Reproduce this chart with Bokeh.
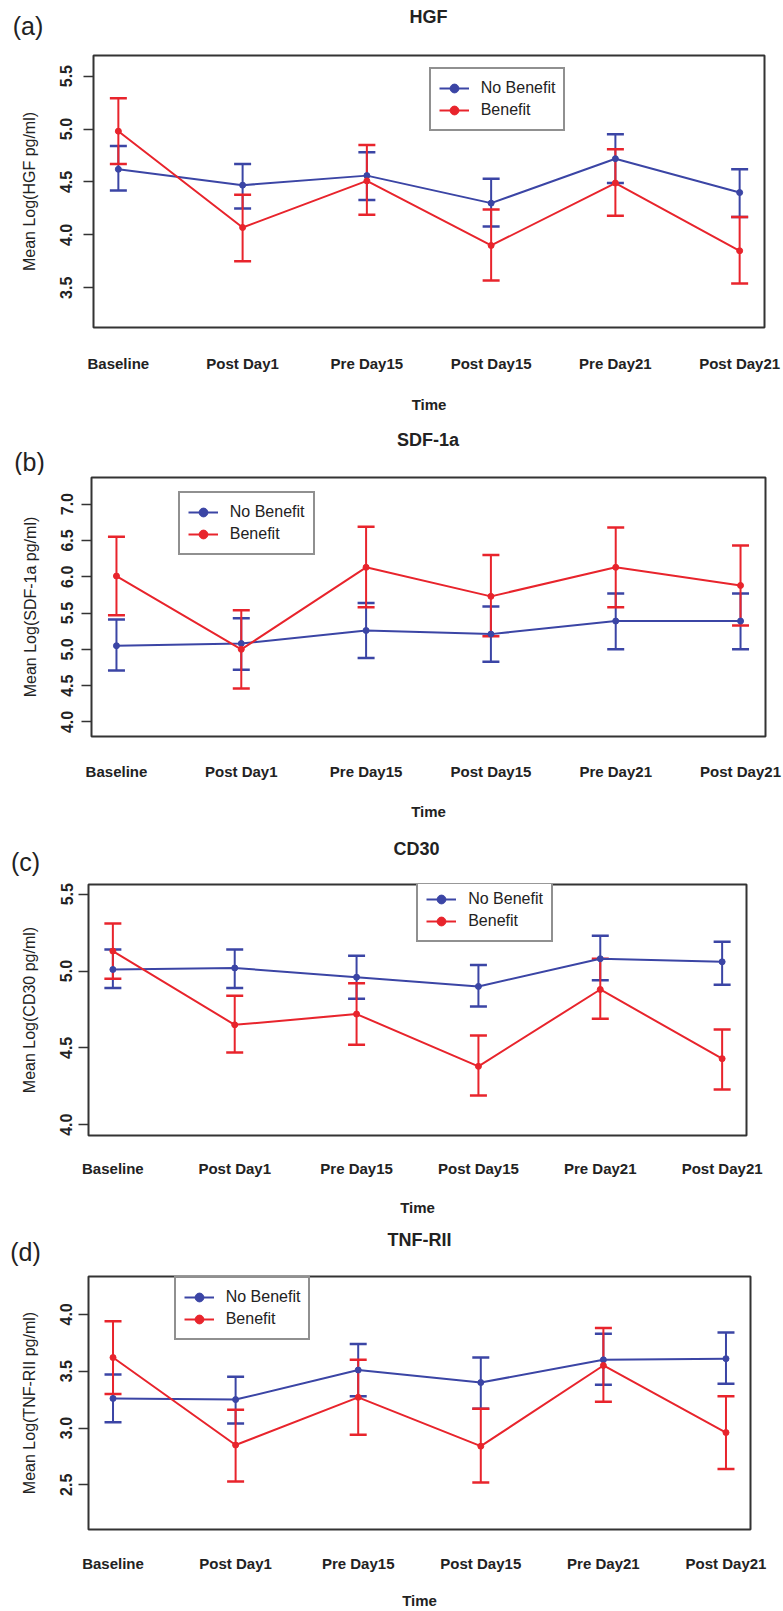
from bokeh.plotting import figure
from bokeh.layouts import column
from bokeh.models import (ColumnDataSource, Whisker, TeeHead, Legend, LegendItem,
                          Label, FixedTicker, PrintfTickFormatter, Range1d)
from bokeh.embed import file_html
from bokeh.resources import INLINE

# ---------------- data ----------------
times = ["Baseline", "Post Day1", "Pre Day15", "Post Day15", "Pre Day21", "Post Day21"]
groups = ["No Benefit", "Benefit"]

hgf_nb_mean = [4.62, 4.47, 4.56, 4.30, 4.72, 4.40]
hgf_nb_lo = [4.42, 4.25, 4.33, 4.08, 4.49, 4.17]
hgf_nb_hi = [4.84, 4.67, 4.78, 4.53, 4.95, 4.62]
hgf_b_mean = [4.98, 4.07, 4.51, 3.90, 4.49, 3.85]
hgf_b_lo = [4.67, 3.75, 4.19, 3.57, 4.18, 3.54]
hgf_b_hi = [5.29, 4.38, 4.85, 4.24, 4.81, 4.17]

sdf_nb_mean = [5.05, 5.08, 5.26, 5.21, 5.39, 5.39]
sdf_nb_lo = [4.71, 4.72, 4.88, 4.83, 5.00, 5.00]
sdf_nb_hi = [5.41, 5.43, 5.64, 5.59, 5.77, 5.77]
sdf_b_mean = [6.01, 5.00, 6.13, 5.73, 6.13, 5.88]
sdf_b_lo = [5.47, 4.46, 5.58, 5.18, 5.58, 5.33]
sdf_b_hi = [6.55, 5.54, 6.69, 6.30, 6.68, 6.43]

cd30_nb_mean = [5.01, 5.02, 4.96, 4.90, 5.08, 5.06]
cd30_nb_lo = [4.89, 4.89, 4.82, 4.77, 4.94, 4.91]
cd30_nb_hi = [5.14, 5.14, 5.10, 5.04, 5.23, 5.19]
cd30_b_mean = [5.13, 4.65, 4.72, 4.38, 4.88, 4.43]
cd30_b_lo = [4.95, 4.47, 4.52, 4.19, 4.69, 4.23]
cd30_b_hi = [5.31, 4.84, 4.92, 4.58, 5.08, 4.62]

tnf_nb_mean = [3.26, 3.25, 3.51, 3.40, 3.60, 3.61]
tnf_nb_lo = [3.05, 3.04, 3.28, 3.17, 3.38, 3.39]
tnf_nb_hi = [3.47, 3.45, 3.74, 3.62, 3.83, 3.84]
tnf_b_mean = [3.62, 2.85, 3.27, 2.84, 3.55, 2.96]
tnf_b_lo = [3.30, 2.53, 2.94, 2.52, 3.23, 2.64]
tnf_b_hi = [3.94, 3.16, 3.60, 3.17, 3.88, 3.28]

# ---------------- style / layout ----------------
FONT = "Liberation Sans"
BLUE = "#3b45a5"
RED = "#e8242c"
INK = "#222222"
FIG_W = 783

panels = [
    dict(title="HGF", letter="(a)", ylabel="Mean Log(HGF pg/ml)",
         yr=(3.125, 5.695), yticks=[3.5, 4.0, 4.5, 5.0, 5.5],
         nb=(hgf_nb_mean, hgf_nb_lo, hgf_nb_hi), b=(hgf_b_mean, hgf_b_lo, hgf_b_hi),
         top=0, bottom=415, fl=93.3, fr=764, ft=55, fb=332,
         title_xy=(428, 16.7), letter_xy=(27.5, 25.8),
         leg=(429, 76.3, 559, 136), xlab_off=30, time_off=69.5),
    dict(title="SDF-1a", letter="(b)", ylabel="Mean Log(SDF-1a pg/ml)",
         yr=(3.80, 7.367), yticks=[4.0, 4.5, 5.0, 5.5, 6.0, 6.5, 7.0],
         nb=(sdf_nb_mean, sdf_nb_lo, sdf_nb_hi), b=(sdf_b_mean, sdf_b_lo, sdf_b_hi),
         top=415, bottom=822, fl=90.7, fr=765, ft=477, fb=742.7,
         title_xy=(427.5, 439.3), letter_xy=(29, 461.7),
         leg=(177.5, 503.3, 306, 561.7), xlab_off=29, time_off=67.3),
    dict(title="CD30", letter="(c)", ylabel="Mean Log(CD30 pg/ml)",
         yr=(3.93, 5.563), yticks=[4.0, 4.5, 5.0, 5.5],
         nb=(cd30_nb_mean, cd30_nb_lo, cd30_nb_hi), b=(cd30_b_mean, cd30_b_lo, cd30_b_hi),
         top=822, bottom=1218, fl=88.3, fr=746, ft=884, fb=1142.7,
         title_xy=(416, 848.3), letter_xy=(25, 861.7),
         leg=(416.5, 894, 540, 949.3), xlab_off=27.3, time_off=64.6),
    dict(title="TNF-RII", letter="(d)", ylabel="Mean Log(TNF-RII pg/ml)",
         yr=(2.107, 4.333), yticks=[2.5, 3.0, 3.5, 4.0],
         nb=(tnf_nb_mean, tnf_nb_lo, tnf_nb_hi), b=(tnf_b_mean, tnf_b_lo, tnf_b_hi),
         top=1218, bottom=1611, fl=88.3, fr=750, ft=1276, fb=1536.7,
         title_xy=(419, 1239.3), letter_xy=(25, 1251.7),
         leg=(174, 1290.7, 300, 1347.7), xlab_off=28.3, time_off=64),
]

x = list(range(1, len(times) + 1))


def make_header(cfg):
    """Strip above a panel that carries the panel letter and the bold title."""
    h = int(round(cfg["ft"] - 2 - cfg["top"]))
    p = figure(width=FIG_W, height=h, output_backend="svg", toolbar_location=None,
               x_range=Range1d(0, FIG_W), y_range=Range1d(0, h),
               x_axis_location=None, y_axis_location=None, min_border=0, title=None,
               frame_align=False)
    p.outline_line_color = None
    p.grid.visible = False
    p.background_fill_color = "white"
    p.border_fill_color = "white"
    tx, ty = cfg["title_xy"]
    p.add_layout(Label(x=tx, y=h - (ty - cfg["top"]), x_units="screen", y_units="screen",
                       text=cfg["title"], text_align="center", text_baseline="middle",
                       text_font=FONT, text_font_size="18px", text_font_style="bold",
                       text_color=INK))
    lx, ly = cfg["letter_xy"]
    p.add_layout(Label(x=lx, y=h - (ly - cfg["top"]), x_units="screen", y_units="screen",
                       text=cfg["letter"], text_align="center", text_baseline="middle",
                       text_font=FONT, text_font_size="25px", text_font_style="normal",
                       text_color=INK))
    return p, h


def make_panel(cfg, header_h):
    top = cfg["top"] + header_h
    h = cfg["bottom"] - top
    bl = round(cfg["fl"])
    br = FIG_W - round(cfg["fr"])
    bt = round(cfg["ft"] - top)
    bb = h - round(cfg["fb"] - top)
    p = figure(width=FIG_W, height=h, output_backend="svg", toolbar_location=None,
               x_range=Range1d(0.8, 6.2), y_range=Range1d(*cfg["yr"]),
               min_border_left=bl, min_border_right=br, min_border_top=bt,
               min_border_bottom=bb, title=None, frame_align=False)
    p.background_fill_color = "white"
    p.border_fill_color = "white"
    p.outline_line_color = "#333333"
    p.outline_line_width = 2
    p.grid.visible = False

    # x axis
    xa = p.xaxis[0]
    xa.ticker = FixedTicker(ticks=x)
    xa.major_label_overrides = {i: t for i, t in zip(x, times)}
    xa.axis_line_color = None
    xa.major_tick_line_color = None
    xa.minor_tick_line_color = None
    xa.major_label_text_font = FONT
    xa.major_label_text_font_size = "15px"
    xa.major_label_text_font_style = "bold"
    xa.major_label_text_color = INK
    xa.major_label_standoff = int(cfg["xlab_off"] - 9)
    xa.axis_label = "Time"
    xa.axis_label_text_font = FONT
    xa.axis_label_text_font_size = "15px"
    xa.axis_label_text_font_style = "bold"
    xa.axis_label_text_color = INK
    xa.axis_label_standoff = int(cfg["time_off"] - 9 - (cfg["xlab_off"] + 9))

    # y axis
    ya = p.yaxis[0]
    ya.ticker = FixedTicker(ticks=cfg["yticks"])
    ya.formatter = PrintfTickFormatter(format="%.1f")
    ya.axis_line_color = None
    ya.major_tick_out = 10
    ya.major_tick_in = 0
    ya.major_tick_line_color = "#333333"
    ya.major_tick_line_width = 1.5
    ya.minor_tick_line_color = None
    ya.major_label_orientation = "vertical"
    ya.major_label_text_font = FONT
    ya.major_label_text_font_size = "16px"
    ya.major_label_text_font_style = "bold"
    ya.major_label_text_color = INK
    ya.major_label_standoff = int(cfg["fl"] - 63.3 - 10 - 9)
    ya.axis_label = cfg["ylabel"]
    ya.axis_label_text_font = FONT
    ya.axis_label_text_font_size = "16px"
    ya.axis_label_text_font_style = "normal"
    ya.axis_label_text_color = INK
    ya.axis_label_standoff = 20

    renderers = []
    for (mean, lo, hi), color in ((cfg["nb"], BLUE), (cfg["b"], RED)):
        src = ColumnDataSource(dict(x=x, mean=mean, lo=lo, hi=hi))
        w = Whisker(source=src, base="x", upper="hi", lower="lo",
                    line_color=color, line_width=2,
                    upper_head=TeeHead(size=17, line_color=color, line_width=2.5),
                    lower_head=TeeHead(size=17, line_color=color, line_width=2.5))
        p.add_layout(w)
        lr = p.line("x", "mean", source=src, line_color=color, line_width=2)
        sr = p.scatter("x", "mean", source=src, size=6, marker="circle",
                       fill_color=color, line_color=color)
        renderers.append((lr, sr))

    l, t, r, b = cfg["leg"]
    legend = Legend(items=[LegendItem(label=groups[0], renderers=list(renderers[0])),
                           LegendItem(label=groups[1], renderers=list(renderers[1]))],
                    location=(l - cfg["fl"], cfg["fb"] - b),
                    orientation="vertical", margin=0, padding=8, spacing=-2,
                    glyph_width=30, glyph_height=22, label_height=22, label_standoff=12,
                    label_text_font=FONT, label_text_font_size="16px",
                    label_text_color=INK,
                    border_line_color="#222222", border_line_width=2,
                    background_fill_color="white", background_fill_alpha=1)
    p.add_layout(legend, "center")
    return p


figs = []
for c in panels:
    hdr, hh = make_header(c)
    figs.append(hdr)
    figs.append(make_panel(c, hh))

layout = column(*figs, spacing=0)

open("out.html", "w").write(file_html(layout, INLINE))
